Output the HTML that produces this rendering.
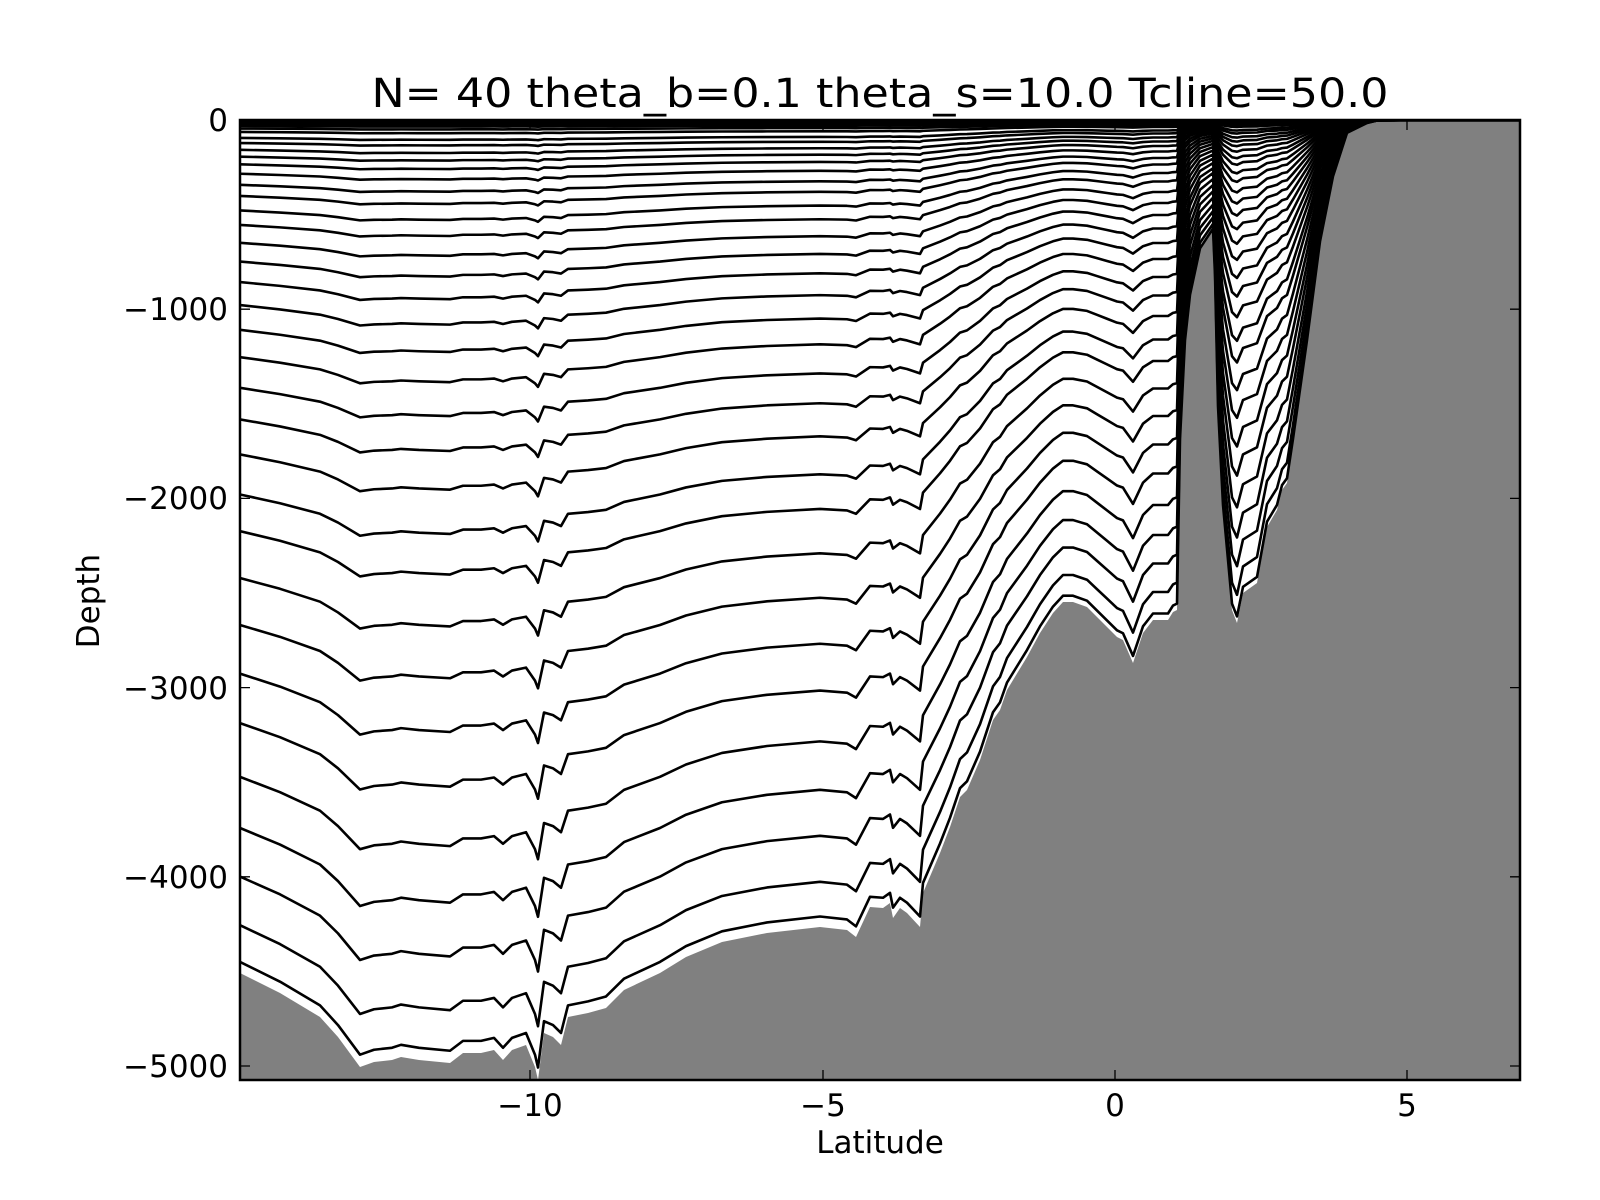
<!DOCTYPE html>
<html><head><meta charset="utf-8"><style>
html,body{margin:0;padding:0;background:#fff;}
svg{display:block;}
text{font-family:"DejaVu Sans","Liberation Sans",sans-serif;fill:#000;}
</style></head><body>
<svg id="s" xmlns="http://www.w3.org/2000/svg" width="1600" height="1200" viewBox="0 0 1600 1200">
<rect width="1600" height="1200" fill="#fff"/>
<defs><clipPath id="c"><rect x="240" y="120" width="1280" height="960"/></clipPath></defs>
<g id="plot" clip-path="url(#c)"></g>
<rect x="240" y="120" width="1280" height="960" fill="none" stroke="#000" stroke-width="2.5"/>
<g id="ticks" stroke="#000" stroke-width="1.3"></g>
<text x="880" y="107" font-size="40" text-anchor="middle" textLength="1017" lengthAdjust="spacingAndGlyphs">N= 40 theta_b=0.1 theta_s=10.0 Tcline=50.0</text>
<g font-size="31" text-anchor="end">
<text x="228" y="131">0</text>
<text x="228" y="320">−1000</text>
<text x="228" y="509">−2000</text>
<text x="228" y="699">−3000</text>
<text x="228" y="888">−4000</text>
<text x="228" y="1077">−5000</text>
</g>
<g font-size="31" text-anchor="middle">
<text x="530" y="1116">−10</text>
<text x="823" y="1116">−5</text>
<text x="1115" y="1116">0</text>
<text x="1407" y="1116">5</text>
<text x="880" y="1153">Latitude</text>
<text x="0" y="0" transform="translate(99,601) rotate(-90)">Depth</text>
</g>
</svg>
<script>
(function(){
var P=[[240,973],[280,993],[320,1017],[338,1037],[360,1067],[374,1062],[392,1060],[401,1057],[419,1060],[450,1063],[463,1053],[481,1053],[494,1050],[503,1060],[512,1050],[526,1045],[535,1067],[538,1080],[544,1033],[553,1037],[561,1045],[568,1017],[588,1013],[606,1008],[624,990],[660,973],[686,957],[722,942],[767,933],[820,927],[847,930],[856,937],[870,907],[883,908],[890,903],[893,918],[900,908],[907,913],[920,927],[923,893],[940,853],[950,827],[960,797],[967,790],[980,760],[993,720],[1000,710],[1007,690],[1027,657],[1040,633],[1053,613],[1063,602],[1073,602],[1087,607],[1097,617],[1107,627],[1117,637],[1123,640],[1133,663],[1143,633],[1153,620],[1163,620],[1168,620],[1173,612],[1177,610],[1180,443],[1185,343],[1190,297],[1200,250],[1213,230],[1215,277],[1218,410],[1223,510],[1232,610],[1237,623],[1243,593],[1257,583],[1267,527],[1277,510],[1282,490],[1287,483],[1293,443],[1307,343],[1320,243],[1333,177],[1347,133],[1367,123],[1377,120.5],[1400,120.3],[1525,120.3]];
var r=[0.987,0.944,0.887,0.830,0.770,0.707,0.649,0.592,0.537,0.482,0.439,0.392,0.351,0.314,0.278,0.246,0.217,0.190,0.166,0.144,0.123,0.106,0.089,0.076,0.063,0.052,0.043,0.035,0.027,0.021,0.014,0.010,0.007,0.005,0.0035,0.0025,0.0017,0.0011,0.0006,0.0002];
var ns="http://www.w3.org/2000/svg";
var g=document.getElementById("plot");
var d="M240,1085";
P.forEach(function(p){d+=" L"+p[0]+","+p[1];});
d+=" L1525,1085 Z";
var f=document.createElementNS(ns,"path");f.setAttribute("d",d);f.setAttribute("fill","#808080");g.appendChild(f);
r.forEach(function(k){
 var pts=P.map(function(p){return p[0]+","+(120+k*(p[1]-120)).toFixed(2);}).join(" ");
 var l=document.createElementNS(ns,"polyline");l.setAttribute("points",pts);
 l.setAttribute("fill","none");l.setAttribute("stroke","#000");l.setAttribute("stroke-width","2.6");l.setAttribute("stroke-linejoin","round");
 g.appendChild(l);
});
var t=document.getElementById("ticks"),s="";
[120,309.2,498.4,687.6,876.8,1066].forEach(function(y){s+="M240,"+y+"h10M1520,"+y+"h-10";});
[530,823,1115,1407].forEach(function(x){s+="M"+x+",1080v-10M"+x+",120v10";});
var tp=document.createElementNS(ns,"path");tp.setAttribute("d",s);t.appendChild(tp);
})();
</script>
</body></html>
